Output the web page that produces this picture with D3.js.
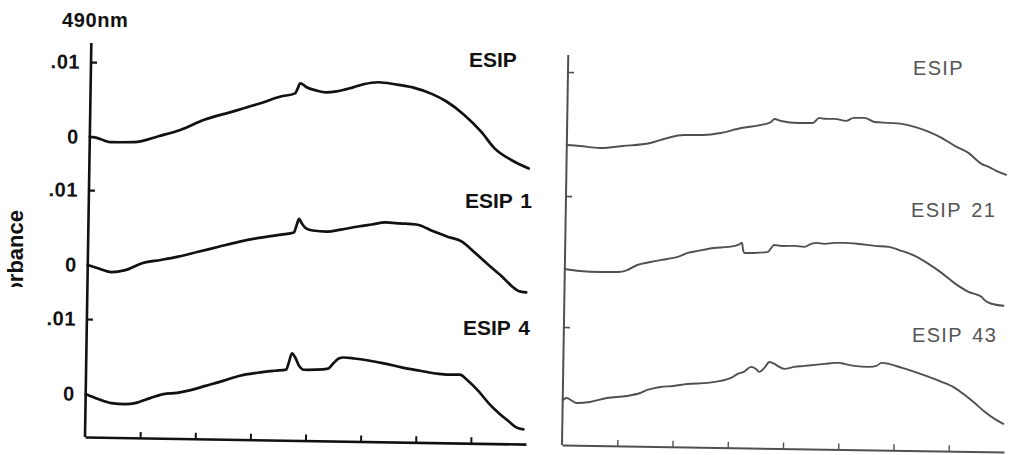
<!DOCTYPE html>
<html>
<head>
<meta charset="utf-8">
<script src="https://cdn.jsdelivr.net/npm/d3@7"></script>
<style>
  body { margin: 0; background: #fff; }
  text { font-family: "Liberation Sans", Arial, sans-serif; }
</style>
</head>
<body>
<script>
// x position in tick intervals (0..8), value in absorbance units
var esipLeft = [[0,0],[0.06,0],[0.38,-0.00064],[0.81,-0.00058],[1.26,0.00029],[1.64,0.00114],[2.07,0.00254],[2.58,0.00369],[3.07,0.00483],[3.45,0.00581],[3.71,0.00626],[3.75,0.0068],[3.80,0.00762],[3.86,0.0074],[3.92,0.0071],[4.09,0.0067],[4.27,0.00646],[4.46,0.00661],[4.76,0.00719],[4.95,0.00762],[5.22,0.00792],[5.52,0.00769],[5.84,0.00731],[6.21,0.00642],[6.46,0.0055],[6.78,0.00378],[7.1,0.00153],[7.34,-0.00061],[7.66,-0.00219],[7.97,-0.00324]];
var esip1 = [[0,0],[0.17,-0.00038],[0.43,-0.00089],[0.68,-0.0006],[1.0,0.00039],[1.32,0.00083],[1.62,0.00128],[2.0,0.002],[2.37,0.00272],[2.75,0.00344],[3.13,0.00402],[3.5,0.00447],[3.73,0.00477],[3.77,0.00558],[3.82,0.0066],[3.86,0.00614],[3.95,0.00535],[4.07,0.00508],[4.33,0.00497],[4.58,0.00527],[4.9,0.00572],[5.14,0.00601],[5.39,0.00631],[5.65,0.00622],[5.95,0.00611],[6.27,0.0052],[6.52,0.00455],[6.78,0.00392],[7.02,0.00246],[7.27,0.00086],[7.53,-0.00073],[7.72,-0.00205],[7.83,-0.00257],[7.96,-0.0027]];
var esip4 = [[0,0],[0.23,-0.00065],[0.47,-0.00116],[0.72,-0.00127],[0.9,-0.00111],[1.17,-0.00041],[1.41,0.00016],[1.66,0.00034],[1.92,0.00077],[2.17,0.00134],[2.49,0.00205],[2.79,0.00277],[3.11,0.0032],[3.43,0.00351],[3.63,0.00368],[3.67,0.00449],[3.73,0.00585],[3.79,0.00531],[3.86,0.00424],[3.95,0.0037],[4.18,0.00374],[4.39,0.0039],[4.48,0.00459],[4.58,0.00527],[4.67,0.00542],[4.86,0.00531],[5.12,0.00507],[5.42,0.0047],[5.74,0.0042],[6.06,0.00382],[6.37,0.00346],[6.55,0.00335],[6.78,0.00338],[6.93,0.00258],[7.12,0.00126],[7.31,-0.00035],[7.5,-0.00168],[7.68,-0.00273],[7.82,-0.00353],[7.95,-0.00378]];

var esipRight = [[0,0],[0.24,-0.00011],[0.6,-0.00034],[1.02,-0.00001],[1.51,0.00046],[1.82,0.00119],[2.11,0.00163],[2.47,0.00168],[2.78,0.00199],[3.15,0.00272],[3.51,0.00318],[3.69,0.00361],[3.75,0.00403],[3.87,0.00377],[4.18,0.00353],[4.45,0.00357],[4.56,0.00427],[4.65,0.00416],[4.84,0.00417],[5.05,0.00392],[5.18,0.00435],[5.38,0.00437],[5.56,0.00384],[5.82,0.00374],[6.05,0.00364],[6.29,0.00325],[6.55,0.0026],[6.78,0.00181],[7.02,0.00074],[7.27,-0.00019],[7.51,-0.00166],[7.64,-0.00205],[7.82,-0.00273],[7.96,-0.00311]];
var esip21 = [[0,0],[0.27,-0.00024],[0.64,-0.00033],[0.96,-0.00029],[1.13,0],[1.31,0.00071],[1.55,0.00115],[1.85,0.0016],[2.04,0.0019],[2.22,0.00247],[2.4,0.00277],[2.69,0.00321],[2.95,0.00339],[3.13,0.00368],[3.2,0.00396],[3.22,0.003],[3.25,0.0026],[3.42,0.00262],[3.67,0.00279],[3.73,0.00334],[3.78,0.00376],[3.91,0.00364],[4.15,0.00367],[4.33,0.00356],[4.45,0.00399],[4.55,0.00413],[4.69,0.00402],[4.87,0.00417],[5.05,0.00419],[5.31,0.00408],[5.6,0.00385],[5.85,0.00374],[6.09,0.00323],[6.33,0.00258],[6.58,0.00151],[6.82,0.0003],[7.05,-0.00104],[7.31,-0.00223],[7.55,-0.00289],[7.6,-0.0033],[7.73,-0.00382],[7.95,-0.00407]];
var esip43 = [[0,0],[0.07,0.00028],[0.25,-0.00038],[0.49,-0.00021],[0.8,0.00038],[1.16,0.00069],[1.4,0.00113],[1.53,0.00156],[1.76,0.002],[2.0,0.00217],[2.25,0.00247],[2.62,0.00266],[2.85,0.00296],[3.04,0.00339],[3.16,0.00396],[3.27,0.00425],[3.4,0.00495],[3.49,0.00468],[3.55,0.00428],[3.64,0.00484],[3.73,0.00567],[3.82,0.00541],[3.91,0.00501],[4.0,0.00475],[4.18,0.00504],[4.36,0.0052],[4.55,0.00537],[4.73,0.00552],[4.91,0.00568],[5.0,0.0057],[5.09,0.00556],[5.27,0.00532],[5.53,0.00521],[5.67,0.00537],[5.76,0.00579],[5.89,0.00567],[6.13,0.00515],[6.36,0.00463],[6.62,0.00397],[6.85,0.00333],[7.09,0.00253],[7.27,0.00159],[7.45,0.00052],[7.64,-0.00068],[7.82,-0.00163],[7.98,-0.00229]];

var leftNames = ["ESIP", "ESIP 1", "ESIP 4"];
var rightNames = ["ESIP", "ESIP 21", "ESIP 43"];
var yTicks = [0, 0.01];
var xTicks = [1, 2, 3, 4, 5, 6, 7];

var width = 1010, height = 455;
var tilt = 0.92; // the scan is slightly rotated

var svg = d3.select("body").append("svg").attr("width", width).attr("height", height);

var panels = [
  {pivot: [85, 437], w: 441, h: 394, rows: [300, 172, 43], unit: 75, color: "#111", lw: 2.7, aw: 2.6,
   labels: true, series: [esipLeft, esip1, esip4],
   names: leftNames, nameX: [469, 465, 463], nameY: [67, 208, 335], bold: true, textColor: "#111"},
  {pivot: [562, 445], w: 442, h: 390, rows: [300, 176, 45], unit: 73, color: "#505050", lw: 1.9, aw: 2,
   labels: false, series: [esipRight, esip21, esip43],
   names: rightNames, nameX: [913, 911, 912], nameY: [75, 217, 342], bold: false, textColor: "#555"}
];

panels.forEach(function(p) {
  var g = svg.append("g")
      .attr("transform", "translate(" + p.pivot[0] + "," + p.pivot[1] + ") rotate(" + tilt + ")");

  var x = d3.scaleLinear().domain([0, 8]).range([0, p.w]);

  // x axis, ticks pointing up, no labels
  var xa = g.append("g").call(d3.axisBottom(x).tickValues(xTicks).tickSize(-6).tickSizeOuter(0).tickFormat(""));
  xa.select(".domain").attr("stroke", p.color).attr("stroke-width", p.aw);
  xa.selectAll(".tick line").attr("stroke", p.color).attr("stroke-width", p.aw - 0.6);

  // y axis line
  g.append("line").attr("x1", 0).attr("y1", 0).attr("x2", 0).attr("y2", -p.h)
      .attr("stroke", p.color).attr("stroke-width", p.aw);

  p.series.forEach(function(s, i) {
    var y = d3.scaleLinear().domain([0, 0.01]).range([-p.rows[i], -p.rows[i] - p.unit]);

    var ya = g.append("g").call(d3.axisLeft(y).tickValues(yTicks).tickSizeInner(-6).tickSizeOuter(0)
        .tickPadding(11).tickFormat(function(d) { return d ? ".01" : "0"; }));
    ya.select(".domain").remove();
    ya.selectAll(".tick line").attr("stroke", p.color).attr("stroke-width", p.aw - 0.4)
        .filter(function(d) { return d === 0; }).remove();
    if (p.labels) {
      ya.selectAll(".tick text").attr("fill", "#111").style("font-size", "20px")
          .style("font-weight", "bold").style("letter-spacing", "0.5px");
    } else {
      ya.selectAll(".tick text").remove();
    }

    var line = d3.line().curve(d3.curveMonotoneX)
        .x(function(d) { return x(d[0]); })
        .y(function(d) { return y(d[1]); });

    g.append("path").attr("d", line(s))
        .attr("fill", "none").attr("stroke", p.color)
        .attr("stroke-width", p.lw).attr("stroke-linejoin", "round").attr("stroke-linecap", "round");
  });

  // trace names
  svg.selectAll(null).data(p.names).enter().append("text")
      .attr("x", function(d, i) { return p.nameX[i]; })
      .attr("y", function(d, i) { return p.nameY[i]; })
      .attr("fill", p.textColor)
      .style("font-size", p.bold ? "21px" : "20px")
      .style("font-weight", p.bold ? "bold" : "normal")
      .style("letter-spacing", p.bold ? "0px" : "1.3px")
      .style("word-spacing", p.bold ? "2px" : "3px")
      .text(function(d) { return d; });
});

svg.append("text").attr("x", 62).attr("y", 27)
    .style("font-size", "20px").style("font-weight", "bold").style("letter-spacing", "0.6px")
    .attr("fill", "#111").text("490nm");

// axis title, partly cut off in the scan
svg.append("clipPath").attr("id", "cut").append("rect")
    .attr("x", 0).attr("y", 190).attr("width", 40).attr("height", 97);
svg.append("g").attr("clip-path", "url(#cut)")
  .append("text")
    .attr("transform", "translate(23,210) rotate(-90)")
    .attr("text-anchor", "end")
    .style("font-size", "22px").style("font-weight", "bold")
    .attr("fill", "#111").text("Absorbance");
</script>
</body>
</html>
